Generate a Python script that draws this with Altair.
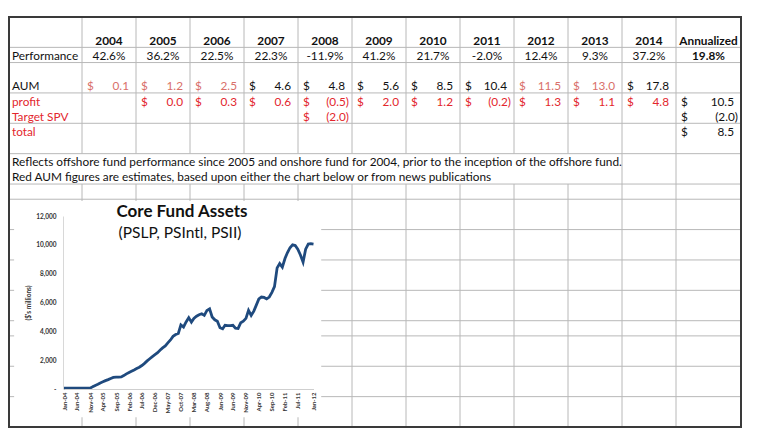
import altair as alt
import pandas as pd

# ---------------- data ----------------
YEARS = [2004, 2005, 2006, 2007, 2008, 2009, 2010, 2011, 2012, 2013, 2014]
PERFORMANCE = [42.6, 36.2, 22.5, 22.3, -11.9, 41.2, 21.7, -2.0, 12.4, 9.3, 37.2]
ANNUALIZED = 19.8
AUM = [0.1, 1.2, 2.5, 4.6, 4.8, 5.6, 8.5, 10.4, 11.5, 13.0, 17.8]
AUM_ESTIMATE = [True, True, True, False, False, False, False, False, True, True, False]
PROFIT = [None, 0.0, 0.3, 0.6, -0.5, 2.0, 1.2, -0.2, 1.3, 1.1, 4.8]
TARGET_SPV = {2008: -2.0}
TOTALS = [10.5, -2.0, 8.5]          # profit, Target SPV, total
ROW_LABELS = ["Performance", "AUM", "profit", "Target SPV", "total"]
ROW_LABEL_RED = [False, False, True, True, True]
NOTES = [
    "Reflects offshore fund performance since 2005 and onshore fund for 2004, prior to the inception of the offshore fund.",
    "Red AUM figures are estimates, based upon either the chart below or from news publications",
]

CHART_TITLE = "Core Fund Assets"
CHART_SUBTITLE = "(PSLP, PSIntl, PSII)"
Y_TITLE = "($'s millions)"
Y_TICKS = [0, 2000, 4000, 6000, 8000, 10000, 12000]
X_TICK_LABELS = ["Jan-04", "Jun-04", "Nov-04", "Apr-05", "Sep-05", "Feb-06", "Jul-06",
                 "Dec-06", "May-07", "Oct-07", "Mar-08", "Aug-08", "Jan-09", "Jun-09",
                 "Nov-09", "Apr-10", "Sep-10", "Feb-11", "Jul-11", "Jan-12"]
ASSET_START = "2004-01-01"
# monthly core fund assets ($ millions), Jan-04 .. Jan-12
ASSETS = [60, 60, 60, 60, 60, 60, 60, 60, 60, 60, 60,
          150, 250, 330, 420, 500, 580, 650, 730, 800, 830, 820, 840, 930,
          1050, 1150, 1230, 1320, 1420, 1510, 1630, 1780, 1950, 2100, 2250, 2380,
          2520, 2700, 2850, 2990, 3200, 3400, 3650, 3780, 3850, 4450, 4300, 4650,
          4950, 4640, 4900, 5050, 5150, 5220, 5110, 5450, 5560, 5000, 4800, 4700,
          4250, 4180, 4420, 4390, 4400, 4420, 4220, 4200, 4600, 4700, 4900, 5450,
          5100, 5400, 5800, 6250, 6380, 6350, 6250, 6380, 6700, 7100, 8400, 8700,
          8450, 9050, 9450, 9800, 10000, 9950, 9700, 9300, 8800, 9700, 10050, 10080,
          10050]

# ---------------- layout ----------------
W, H = 753, 432
FONT = "Lato"
FS = 11.8
XS = alt.Scale(domain=[0, 1, 12, 13], range=[1, 74, 668, 733], nice=False, zero=False)
YS = alt.Scale(domain=[0, 27], range=[9, 419], nice=False, zero=False)
TONES = alt.Scale(domain=["black", "red", "estimate"], range=["#111111", "#e3262d", "#d9706a"])
ROW = {"year": 1, "Performance": 2, "AUM": 4, "profit": 5, "Target SPV": 6, "total": 7}
NOTE_ROWS = [9, 10]
ANN_COL = 12
H_LINES = [2, 3, 5, 7, 9, 11, 12, 14, 16, 18, 20, 21, 23, 25]
CHART_BOX = {"x": 0.07, "x2": 5.43, "y": 12.12, "y2": 26.35}


def acct(v):
    return f"({abs(v):.1f})" if v < 0 else f"{v:.1f}"


def ycol(df):
    df["y"] = df["row"] + 0.5
    return df


# label column + notes
lab = pd.DataFrame({
    "text": ROW_LABELS + NOTES,
    "row": [ROW[l] for l in ROW_LABELS] + NOTE_ROWS,
    "tone": ["red" if r else "black" for r in ROW_LABEL_RED] + ["black"] * len(NOTES),
})
lab["x"] = 0.0
lab = ycol(lab)

# bold centered headers
hdr = pd.DataFrame({
    "text": [str(y) for y in YEARS] + ["Annualized", f"{ANNUALIZED:.1f}%"],
    "x": [1 + i + 0.5 for i in range(len(YEARS))] + [ANN_COL + 0.5, ANN_COL + 0.5],
    "row": [ROW["year"]] * len(YEARS) + [ROW["year"], ROW["Performance"]],
})
hdr["tone"] = "black"
hdr = ycol(hdr)

perf = pd.DataFrame({
    "text": [f"{p:.1f}%" for p in PERFORMANCE],
    "x": [1 + i + 0.5 for i in range(len(YEARS))],
    "row": ROW["Performance"],
})
perf["tone"] = "black"
perf = ycol(perf)

# money cells
cells = []
for i, (v, est) in enumerate(zip(AUM, AUM_ESTIMATE)):
    cells.append({"col": 1 + i, "row": ROW["AUM"], "v": v, "tone": "estimate" if est else "black"})
for i, v in enumerate(PROFIT):
    if v is not None:
        cells.append({"col": 1 + i, "row": ROW["profit"], "v": v, "tone": "red"})
for yr, v in TARGET_SPV.items():
    cells.append({"col": 1 + YEARS.index(yr), "row": ROW["Target SPV"], "v": v, "tone": "red"})
for key, v in zip(["profit", "Target SPV", "total"], TOTALS):
    cells.append({"col": ANN_COL, "row": ROW[key], "v": v, "tone": "black"})
cells = pd.DataFrame(cells)
cells["text"] = cells["v"].map(acct)
cells["neg"] = cells["v"] < 0
cells = ycol(cells)

dollars = cells.copy()
dollars["x"] = dollars["col"]
dollars["text"] = "$"
nums = cells.copy()
nums["x"] = nums["col"] + 1

# grid
hl = pd.DataFrame({"y": H_LINES})
hl["x"] = 0
hl["x2"] = 13
vl = []
for c in range(1, 13):
    vl.append({"x": c, "y": 0, "y2": 9})
    vl.append({"x": c, "y": 11, "y2": 27})
for c in (11, 12):
    vl.append({"x": c, "y": 9, "y2": 11})
vl = pd.DataFrame(vl)

GRID = "#b8b8b8"
grid_h = alt.Chart(hl).mark_rule(color=GRID, strokeWidth=1).encode(
    x=alt.X("x:Q", scale=XS, axis=None), x2="x2:Q", y=alt.Y("y:Q", scale=YS, axis=None))
grid_v = alt.Chart(vl).mark_rule(color=GRID, strokeWidth=1).encode(
    x=alt.X("x:Q", scale=XS, axis=None), y=alt.Y("y:Q", scale=YS, axis=None), y2="y2:Q")
box = alt.Chart(pd.DataFrame([CHART_BOX])).mark_rect(fill="white").encode(
    x=alt.X("x:Q", scale=XS, axis=None), x2="x2:Q",
    y=alt.Y("y:Q", scale=YS, axis=None), y2="y2:Q")
border = alt.Chart(pd.DataFrame([{"x": 0, "x2": 13, "y": 0, "y2": 27}])).mark_rect(
    filled=False, stroke="#3a3a3a", strokeWidth=2).encode(
    x=alt.X("x:Q", scale=XS, axis=None), x2="x2:Q",
    y=alt.Y("y:Q", scale=YS, axis=None), y2="y2:Q")


def tlayer(df, align, dx=0, bold=False):
    return alt.Chart(df).mark_text(
        align=align, baseline="middle", dx=dx, dy=1, font=FONT, fontSize=FS,
        fontWeight="bold" if bold else "normal").encode(
        x=alt.X("x:Q", scale=XS, axis=None),
        y=alt.Y("y:Q", scale=YS, axis=None),
        text="text:N",
        color=alt.Color("tone:N", scale=TONES, legend=None))


t_lab = tlayer(lab, "left", dx=3)
t_hdr = tlayer(hdr, "center", bold=True)
t_perf = tlayer(perf, "center")
t_dol = tlayer(dollars, "left", dx=5)
t_pos = tlayer(nums[~nums["neg"]], "right", dx=-7)
t_neg = tlayer(nums[nums["neg"]], "right", dx=-3)

# ---------------- embedded chart ----------------
assets_df = pd.DataFrame({
    "date": pd.date_range(ASSET_START, periods=len(ASSETS), freq="MS"),
    "assets": ASSETS,
})
tick_dates = [pd.to_datetime(l, format="%b-%y") for l in X_TICK_LABELS]
tick_vals = [alt.DateTime(year=d.year, month=d.month, date=1) for d in tick_dates]

AXIS_INK = "#333333"
line = alt.Chart(assets_df).mark_line(color="#1f4a7e", strokeWidth=2.8).encode(
    x=alt.X("date:T",
            scale=alt.Scale(domain=[tick_vals[0], tick_vals[-1]], range=[56, 305.5], nice=False),
            axis=alt.Axis(values=tick_vals, format="%b-%y", labelAngle=-90, orient="bottom",
                          offset=-51, title=None, grid=False, ticks=False, zindex=1,
                          domainColor="#cfcfcf", labelFont=FONT, labelFontSize=6,
                          labelFontWeight="bold", labelColor=AXIS_INK, labelPadding=3,
                          labelOverlap=False, labelBound=False, labelFlush=False)),
    y=alt.Y("assets:Q",
            scale=alt.Scale(domain=[0, 12000], range=[381, 208], nice=False),
            axis=alt.Axis(values=Y_TICKS, orient="left", offset=-55, grid=False, ticks=False,
                          zindex=1, domainColor="#d8d8d8", labelFont=FONT, labelFontSize=6.5,
                          labelFontWeight="bold", labelColor=AXIS_INK, labelPadding=7,
                          labelExpr="datum.value == 0 ? '-  ' : format(datum.value, ',')",
                          title=Y_TITLE, titleFont=FONT, titleFontSize=6.5,
                          titleFontWeight="bold", titleColor=AXIS_INK, titleAngle=-90,
                          titleBaseline="middle", titleAlign="center",
                          titleX=-35, titleY=294.5)),
)

title = alt.Chart(pd.DataFrame({"t": [CHART_TITLE]})).mark_text(
    font=FONT, fontSize=17, fontWeight="bold", color="#111111", baseline="middle").encode(
    text="t:N", x=alt.value(174), y=alt.value(204))
subtitle = alt.Chart(pd.DataFrame({"t": [CHART_SUBTITLE]})).mark_text(
    font=FONT, fontSize=15.5, color="#111111", baseline="middle").encode(
    text="t:N", x=alt.value(172), y=alt.value(225))

chart = alt.layer(
    grid_h, grid_v, box, border,
    t_lab, t_hdr, t_perf, t_dol, t_pos, t_neg,
    line, title, subtitle,
).resolve_scale(x="independent", y="independent").properties(
    width=W, height=H, padding=0, autosize=alt.AutoSizeParams(type="none"),
).configure_view(stroke=None)

chart.save("out.html", embed_options={"renderer": "svg", "actions": False})
